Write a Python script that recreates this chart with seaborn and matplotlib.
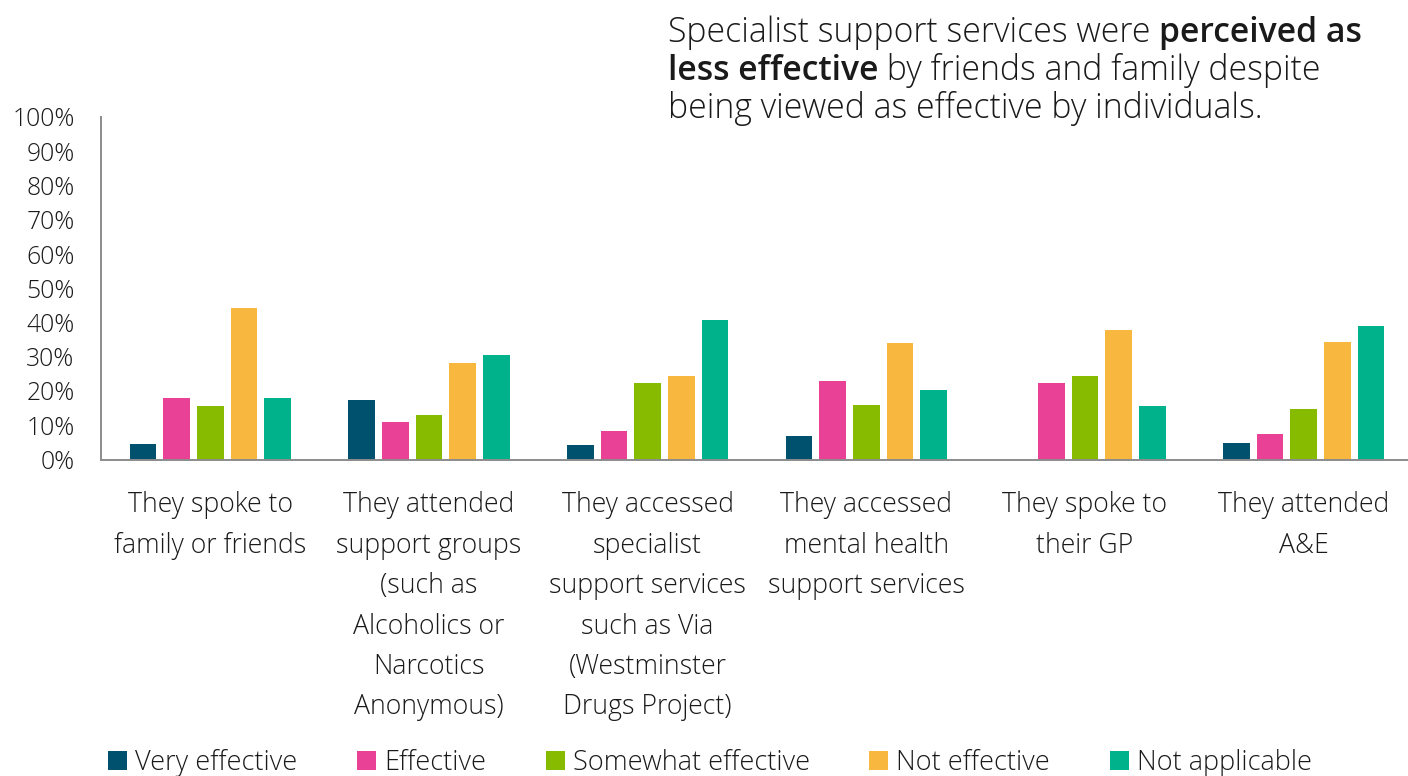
import matplotlib
matplotlib.use("Agg")
import matplotlib.pyplot as plt
import seaborn as sns
import pandas as pd
from matplotlib.patches import Patch

# Survey responses: how effective each kind of help was perceived to be (%)
categories = [
    "They spoke to\nfamily or friends",
    "They attended\nsupport groups\n(such as\nAlcoholics or\nNarcotics\nAnonymous)",
    "They accessed\nspecialist\nsupport services\nsuch as Via\n(Westminster\nDrugs Project)",
    "They accessed\nmental health\nsupport services",
    "They spoke to\ntheir GP",
    "They attended\nA&E",
]
ratings = ["Very effective", "Effective", "Somewhat effective", "Not effective", "Not applicable"]
very_effective = [4.4, 17.5, 4.2, 6.9, 0.0, 4.9]
effective = [17.9, 10.9, 8.2, 22.8, 22.2, 7.4]
somewhat_effective = [15.6, 13.1, 22.4, 15.9, 24.5, 14.7]
not_effective = [44.3, 28.3, 24.5, 34.1, 37.7, 34.2]
not_applicable = [17.9, 30.4, 40.8, 20.4, 15.6, 39.1]
colors = ["#00516E", "#E84196", "#86BB00", "#F8B840", "#00B28C"]
y_ticks = list(range(0, 101, 10))

series = [very_effective, effective, somewhat_effective, not_effective, not_applicable]
df = pd.DataFrame(
    [(c, r, v) for r, vals in zip(ratings, series) for c, v in zip(categories, vals)],
    columns=["category", "rating", "value"],
)

sns.set_theme(style="white")
plt.rcParams["font.family"] = ["Open Sans", "DejaVu Sans"]
TEXT = "#1a1a1a"
AXIS = "#8c8c8c"

W, H = 1408, 776
fig = plt.figure(figsize=(W / 100, H / 100), dpi=100)
ax = fig.add_axes([101 / W, (H - 459.5) / H, (1413 - 101) / W, (459.5 - 117) / H])

sns.barplot(
    data=df, x="category", y="value", hue="rating", hue_order=ratings,
    order=categories, palette=colors, saturation=1, width=0.77, gap=0.2,
    linewidth=0, legend=False, ax=ax,
)

ax.set_ylim(0, 100)
ax.set_xlim(-0.5, len(categories) - 0.5)
ax.set_yticks(y_ticks)
ax.set_yticklabels([f"{v}%" for v in y_ticks], fontsize=17.8, color=TEXT, fontweight="light")
ax.set_xticks(range(len(categories)))
ax.set_xticklabels(categories, fontsize=19.2, color=TEXT, linespacing=1.59, va="top",
                   fontweight="light")
ax.set_xticks([i - 0.5 for i in range(len(categories) + 1)], minor=True)
ax.tick_params(axis="x", which="major", length=0, pad=23)
ax.tick_params(axis="x", which="minor", length=6, width=1.3, color=AXIS, direction="out")
ax.tick_params(axis="y", length=6, width=1.3, color=AXIS, direction="out", pad=13)
ax.set_xlabel("")
ax.set_ylabel("")
for side in ("top", "right"):
    ax.spines[side].set_visible(False)
for side in ("left", "bottom"):
    ax.spines[side].set_color(AXIS)
    ax.spines[side].set_linewidth(1.4)

# Legend along the bottom
handles = [Patch(facecolor=c, edgecolor="none") for c in colors]
fig.legend(
    handles, ratings, loc="center left", bbox_to_anchor=(108 / W, 1 - 763 / H),
    ncol=5, frameon=False, handlelength=0.7, handleheight=0.7,
    handletextpad=0.3, columnspacing=2.2, borderpad=0, borderaxespad=0,
    labelcolor=TEXT, prop={"size": 19.5, "weight": "light"},
)

# Headline with emphasised phrase
lines = [
    [("Specialist support services were ", "light"), ("perceived as", "semibold")],
    [("less effective", "semibold"), (" by friends and family despite", "light")],
    [("being viewed as effective by individuals.", "light")],
]
baselines = [42, 80, 118]
fig.canvas.draw()
renderer = fig.canvas.get_renderer()
for parts, base in zip(lines, baselines):
    x = 668.0
    for text, weight in parts:
        t = fig.text(x / W, 1 - base / H, text, fontsize=24.3, fontweight=weight,
                     color=TEXT, ha="left", va="baseline")
        bb = t.get_window_extent(renderer)
        x += bb.width

fig.savefig("out.png", dpi=100)
